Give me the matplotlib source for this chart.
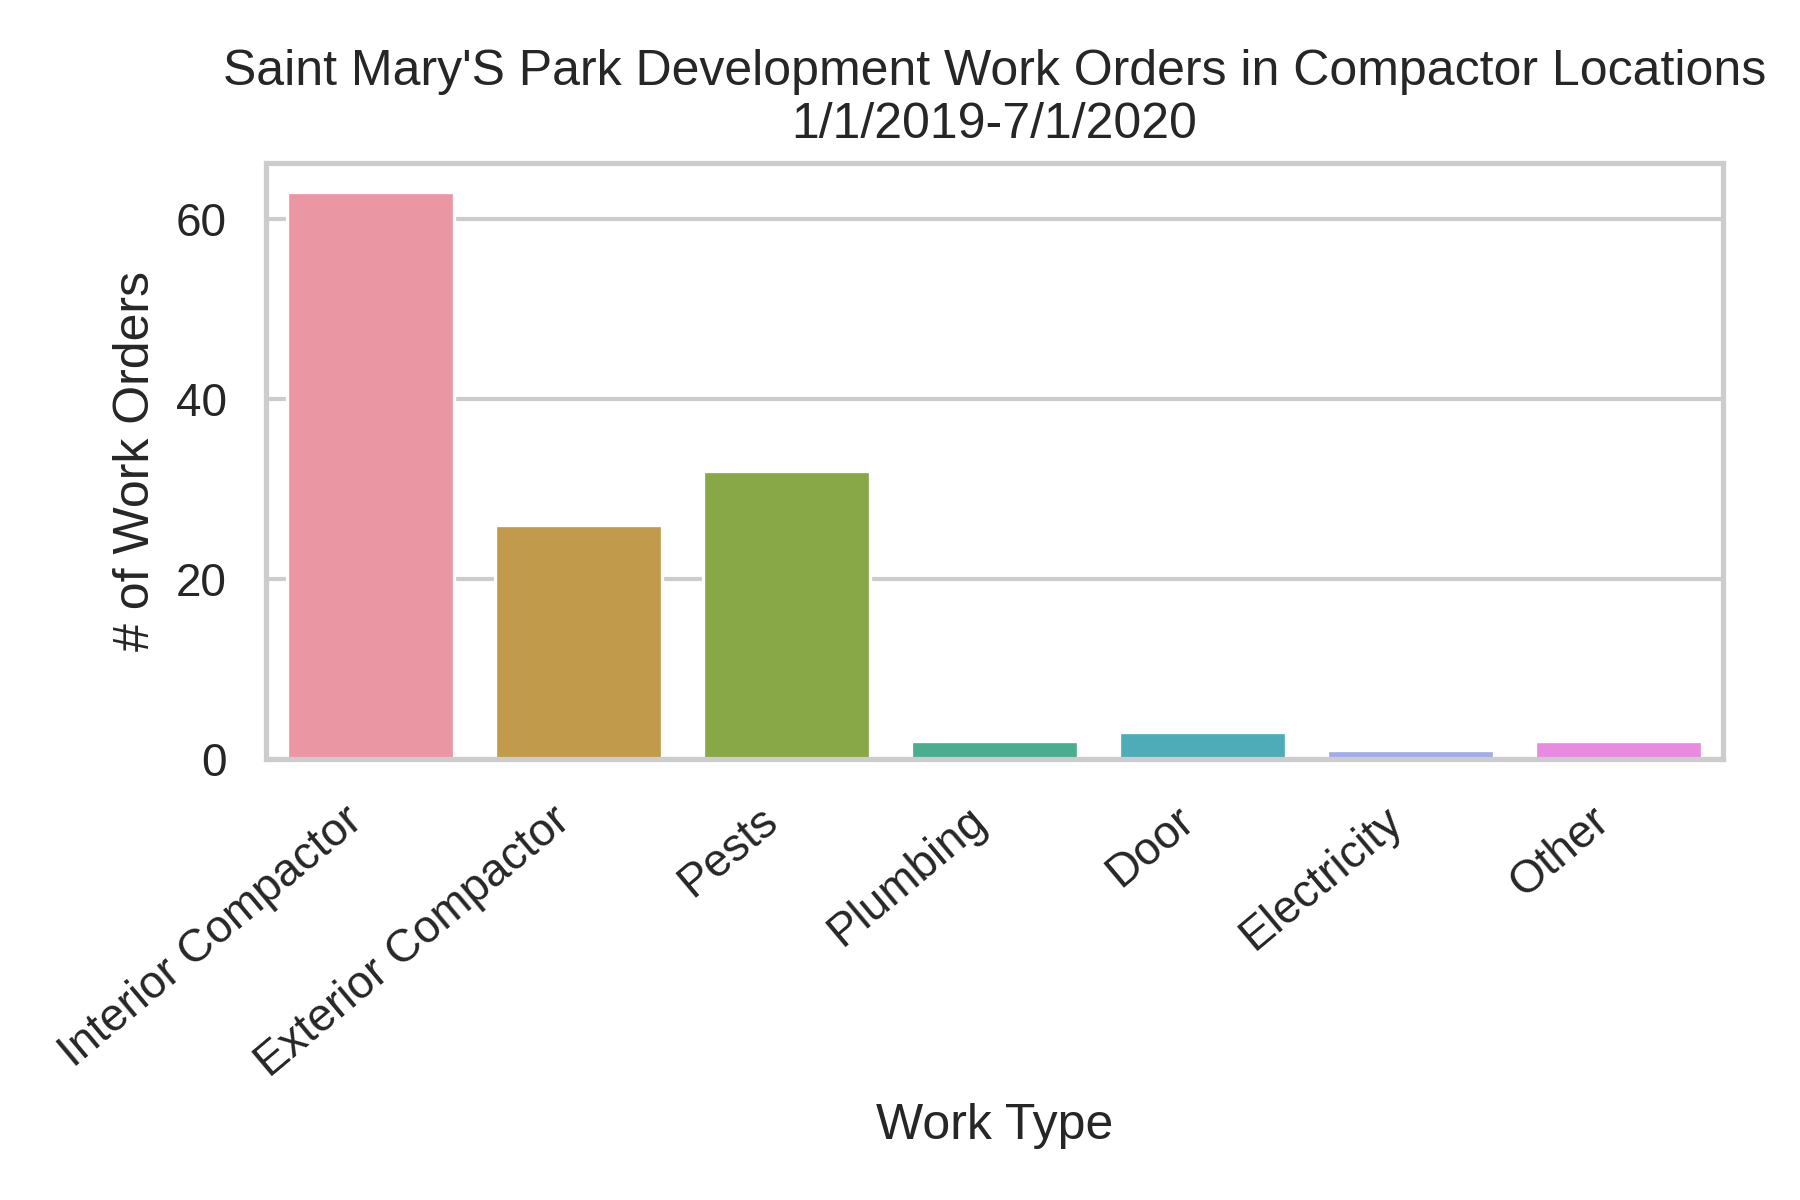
import matplotlib
matplotlib.use("Agg")
import matplotlib.pyplot as plt
import seaborn as sns

categories = ["Interior Compactor", "Exterior Compactor", "Pests", "Plumbing",
              "Door", "Electricity", "Other"]
counts = [63, 26, 32, 2, 3, 1, 2]
title = "Saint Mary'S Park Development Work Orders in Compactor Locations\n1/1/2019-7/1/2020"

sns.set_theme(context="notebook", style="whitegrid")
plt.rcParams['font.family'] = ['Liberation Sans', 'DejaVu Sans']

fig = plt.figure(figsize=(6, 4), dpi=300)
ax = fig.add_axes([0.148, 0.3675, 0.809, 0.4965])

palette = sns.husl_palette(len(categories), l=.7)
sns.barplot(x=categories, y=counts, hue=categories, palette=palette,
            legend=False, ax=ax, saturation=0.75, edgecolor="white", linewidth=0.8)

ax.set_xlabel("Work Type")
ax.set_ylabel("# of Work Orders")
ax.set_title(title)
ax.set_yticks([0, 20, 40, 60])
ax.set_xticks(range(len(categories)))
ax.set_xticklabels(categories, rotation=40, ha="right")
for s in ax.spines.values():
    s.set_visible(True)
    s.set_color("#cccccc")
    s.set_linewidth(1.25)
ax.set_axisbelow(True)
ax.xaxis.grid(False)

fig.savefig("out.png", dpi=300)
